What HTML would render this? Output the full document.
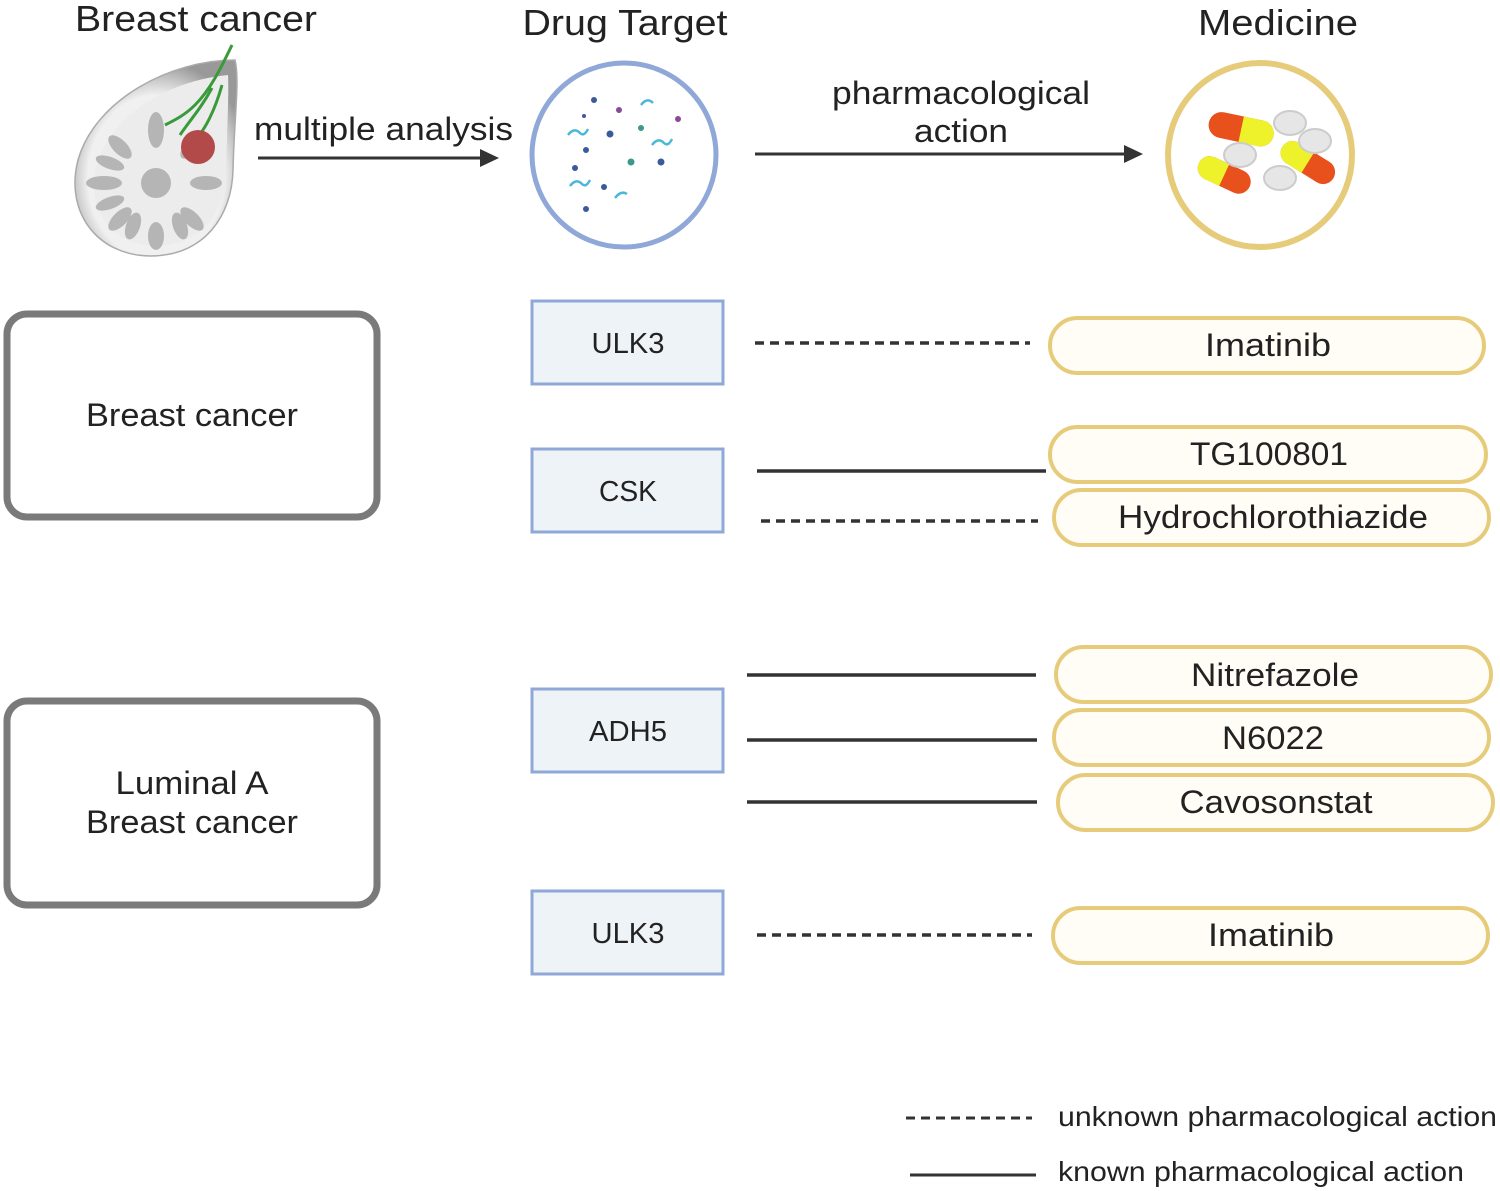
<!DOCTYPE html>
<html><head><meta charset="utf-8"><style>
html,body{margin:0;padding:0;background:#fff}
svg{display:block}
text{font-family:"Liberation Sans",sans-serif;fill:#222}
</style></head><body>
<svg width="1500" height="1191" viewBox="0 0 1500 1191" xmlns="http://www.w3.org/2000/svg">
<defs>
<radialGradient id="br" cx="0.5" cy="0.6" r="0.6"><stop offset="0.7" stop-color="#f0f0f0"/><stop offset="1" stop-color="#999"/></radialGradient>
</defs>
<!-- titles -->
<text x="196" y="31" font-size="36" text-anchor="middle" textLength="242" lengthAdjust="spacingAndGlyphs">Breast cancer</text>
<text x="625" y="35" font-size="36" text-anchor="middle" textLength="205" lengthAdjust="spacingAndGlyphs">Drug Target</text>
<text x="1278" y="35" font-size="36" text-anchor="middle" textLength="160" lengthAdjust="spacingAndGlyphs">Medicine</text>
<!-- breast illustration -->
<g>
<path d="M235,60 C170,60 95,100 78,160 C65,210 95,255 150,256 C205,256 232,215 233,170 C234,120 240,80 235,60 z" fill="url(#br)" stroke="#aaa" stroke-width="1.5"/>
<path d="M228,75 C175,80 110,110 95,170 C88,215 115,245 155,246 C200,246 225,215 226,170 C227,130 229,95 228,75 z" fill="#ececec"/>
<g fill="#b5b5b5">
<circle cx="156" cy="183" r="15"/>
<ellipse cx="156" cy="130" rx="8" ry="18"/><ellipse cx="156" cy="236" rx="8" ry="14"/>
<ellipse cx="104" cy="183" rx="18" ry="7"/><ellipse cx="206" cy="183" rx="16" ry="7"/>
<ellipse cx="120" cy="147" rx="15" ry="7" transform="rotate(45 120 147)"/>
<ellipse cx="192" cy="219" rx="15" ry="7" transform="rotate(45 192 219)"/>
<ellipse cx="120" cy="219" rx="15" ry="7" transform="rotate(-45 120 219)"/>
<ellipse cx="192" cy="147" rx="15" ry="7" transform="rotate(-45 192 147)"/>
<ellipse cx="133" cy="226" rx="7" ry="14" transform="rotate(20 133 226)"/>
<ellipse cx="180" cy="226" rx="7" ry="14" transform="rotate(-20 180 226)"/>
<ellipse cx="110" cy="163" rx="15" ry="6" transform="rotate(20 110 163)"/>
<ellipse cx="110" cy="203" rx="15" ry="6" transform="rotate(-20 110 203)"/>
</g>
<path d="M232,45 C220,70 210,90 195,105 C185,115 175,120 165,125 M212,88 C200,110 190,120 180,135 M222,85 C215,110 205,130 195,140" stroke="#3a9a3a" stroke-width="3" fill="none"/>
<circle cx="198" cy="147" r="17" fill="#b24a4a"/>
</g>
<!-- arrow 1 -->
<text x="254" y="140" font-size="32" textLength="259" lengthAdjust="spacingAndGlyphs">multiple analysis</text>
<line x1="258" y1="158" x2="488" y2="158" stroke="#333" stroke-width="3"/>
<path d="M480,149 L499,158 L480,167 z" fill="#333"/>
<!-- drug target circle -->
<circle cx="624" cy="155" r="92" fill="#fff" stroke="#8fa8d8" stroke-width="5"/>
<g fill="#3a5a9a"><circle cx="594" cy="100" r="3"/><circle cx="610" cy="134" r="3.5"/><circle cx="586" cy="150" r="3"/><circle cx="575" cy="168" r="3"/><circle cx="604" cy="187" r="3"/><circle cx="586" cy="209" r="3"/><circle cx="661" cy="162" r="3.5"/><circle cx="584" cy="116" r="2"/></g>
<g fill="#8a4a9a"><circle cx="678" cy="119" r="3"/><circle cx="619" cy="110" r="3"/></g>
<g fill="#3a9a8a"><circle cx="641" cy="128" r="3"/><circle cx="631" cy="162" r="3.5"/></g>
<g stroke="#4ab8d8" stroke-width="2.5" fill="none"><path d="M568,135 q6,-8 12,-2 q4,4 8,-4"/><path d="M570,186 q6,-8 12,-2 q4,4 8,-4"/><path d="M641,105 q6,-8 12,-2"/><path d="M652,145 q6,-8 12,-2 q4,4 8,-4"/><path d="M615,198 q6,-8 12,-4"/></g>
<!-- arrow 2 -->
<text x="961" y="104" font-size="32" text-anchor="middle" textLength="258" lengthAdjust="spacingAndGlyphs">pharmacological</text>
<text x="961" y="142" font-size="32" text-anchor="middle" textLength="94" lengthAdjust="spacingAndGlyphs">action</text>
<line x1="755" y1="154" x2="1133" y2="154" stroke="#333" stroke-width="3"/>
<path d="M1124,145 L1143,154 L1124,163 z" fill="#333"/>
<!-- medicine circle -->
<circle cx="1260" cy="155" r="92" fill="#fff" stroke="#e6cc7a" stroke-width="6"/>
<g transform="rotate(12 1240 130)"><rect x="1208" y="116" width="66" height="26" rx="13" fill="#e8501c"/><rect x="1241" y="116" width="33" height="26" rx="13" fill="#eef22a"/><rect x="1241" y="116" width="14" height="26" fill="#eef22a"/></g>
<g transform="rotate(25 1222 175)"><rect x="1196" y="162" width="56" height="24" rx="12" fill="#e8501c"/><rect x="1196" y="162" width="28" height="24" rx="12" fill="#eef22a"/><rect x="1212" y="162" width="12" height="24" fill="#eef22a"/></g>
<g transform="rotate(32 1307 162)"><rect x="1278" y="150" width="60" height="24" rx="12" fill="#e8501c"/><rect x="1278" y="150" width="30" height="24" rx="12" fill="#eef22a"/><rect x="1294" y="150" width="14" height="24" fill="#eef22a"/></g>
<g fill="#e6e6e6" stroke="#ccc" stroke-width="2"><ellipse cx="1290" cy="123" rx="16" ry="12"/><ellipse cx="1315" cy="141" rx="16" ry="12"/><ellipse cx="1240" cy="155" rx="16" ry="12"/><ellipse cx="1280" cy="178" rx="16" ry="12"/></g>
<!-- left boxes -->
<rect x="7" y="314" width="370" height="203" rx="20" fill="#fff" stroke="#7a7a7a" stroke-width="7"/>
<text x="192" y="426" font-size="32" text-anchor="middle" textLength="212" lengthAdjust="spacingAndGlyphs">Breast cancer</text>
<rect x="7" y="701" width="370" height="204" rx="20" fill="#fff" stroke="#7a7a7a" stroke-width="7"/>
<text x="192" y="794" font-size="32" text-anchor="middle" textLength="153" lengthAdjust="spacingAndGlyphs">Luminal A</text>
<text x="192" y="833" font-size="32" text-anchor="middle" textLength="212" lengthAdjust="spacingAndGlyphs">Breast cancer</text>
<!-- target boxes -->
<g fill="#eef3f8" stroke="#8fa8d8" stroke-width="3">
<rect x="532" y="301" width="191" height="83"/><rect x="532" y="449" width="191" height="83"/>
<rect x="532" y="689" width="191" height="83"/><rect x="532" y="891" width="191" height="83"/>
</g>
<g font-size="29" text-anchor="middle">
<text x="628" y="353" textLength="73" lengthAdjust="spacingAndGlyphs">ULK3</text>
<text x="628" y="501" textLength="58" lengthAdjust="spacingAndGlyphs">CSK</text>
<text x="628" y="741" textLength="78" lengthAdjust="spacingAndGlyphs">ADH5</text>
<text x="628" y="943" textLength="73" lengthAdjust="spacingAndGlyphs">ULK3</text>
</g>
<!-- lines -->
<g stroke="#333" stroke-width="3.5">
<line x1="755" y1="343" x2="1030" y2="343" stroke-dasharray="9 6"/>
<line x1="757" y1="471" x2="1046" y2="471"/>
<line x1="761" y1="521" x2="1038" y2="521" stroke-dasharray="9 6"/>
<line x1="747" y1="675" x2="1036" y2="675"/>
<line x1="747" y1="740" x2="1037" y2="740"/>
<line x1="747" y1="802" x2="1037" y2="802"/>
<line x1="757" y1="935" x2="1032" y2="935" stroke-dasharray="9 6"/>
</g>
<!-- pills -->
<g fill="#fffdf6" stroke="#e6cc7a" stroke-width="4">
<rect x="1050" y="318" width="434" height="55" rx="27.5"/>
<rect x="1050" y="427" width="436" height="55" rx="27.5"/>
<rect x="1054" y="490" width="435" height="55" rx="27.5"/>
<rect x="1056" y="647" width="435" height="55" rx="27.5"/>
<rect x="1054" y="710" width="435" height="55" rx="27.5"/>
<rect x="1058" y="775" width="435" height="55" rx="27.5"/>
<rect x="1053" y="908" width="435" height="55" rx="27.5"/>
</g>
<g font-size="32" text-anchor="middle">
<text x="1268" y="356" textLength="126" lengthAdjust="spacingAndGlyphs">Imatinib</text>
<text x="1269" y="465" textLength="158" lengthAdjust="spacingAndGlyphs">TG100801</text>
<text x="1273" y="528" textLength="310" lengthAdjust="spacingAndGlyphs">Hydrochlorothiazide</text>
<text x="1275" y="686" textLength="168" lengthAdjust="spacingAndGlyphs">Nitrefazole</text>
<text x="1273" y="749" textLength="102" lengthAdjust="spacingAndGlyphs">N6022</text>
<text x="1276" y="813" textLength="193" lengthAdjust="spacingAndGlyphs">Cavosonstat</text>
<text x="1271" y="946" textLength="126" lengthAdjust="spacingAndGlyphs">Imatinib</text>
</g>
<!-- legend -->
<line x1="906" y1="1118" x2="1032" y2="1118" stroke="#333" stroke-width="3" stroke-dasharray="9 6"/>
<line x1="910" y1="1175" x2="1036" y2="1175" stroke="#333" stroke-width="3"/>
<text x="1058" y="1126" font-size="28" textLength="439" lengthAdjust="spacingAndGlyphs">unknown pharmacological action</text>
<text x="1058" y="1181" font-size="28" textLength="406" lengthAdjust="spacingAndGlyphs">known pharmacological action</text>
</svg>
</body></html>
